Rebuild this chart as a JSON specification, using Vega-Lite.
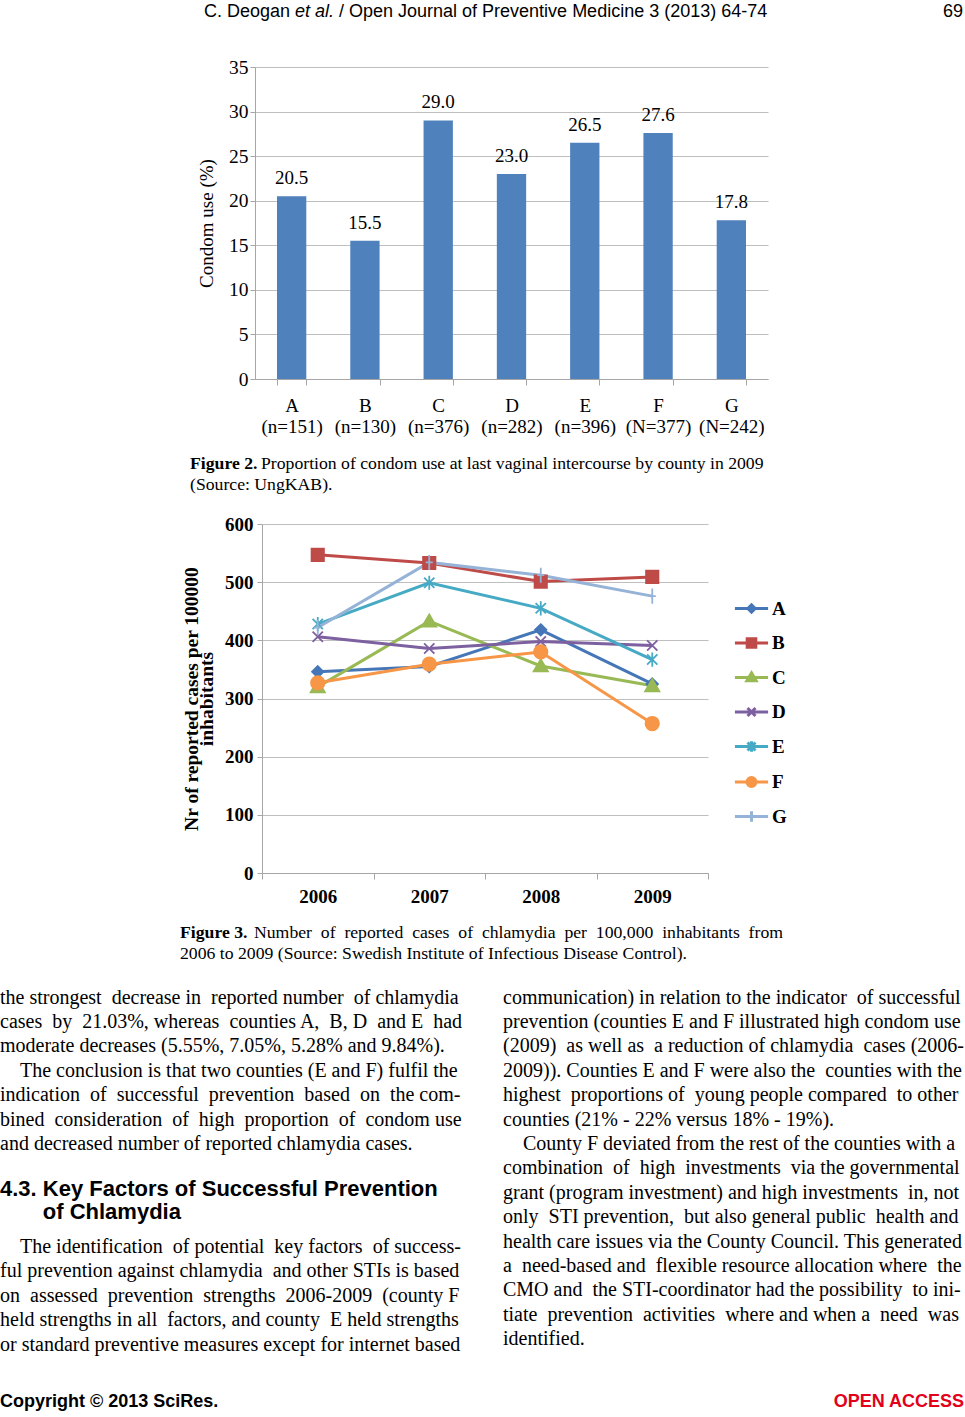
{
  "$schema": "https://vega.github.io/schema/vega-lite/v6.json",
  "width": 965,
  "height": 1417,
  "autosize": {"type": "none"},
  "padding": 0,
  "background": "#ffffff",
  "config": {
    "view": {"stroke": null},
    "text": {"color": "#000000"}
  },
  "resolve": {
    "scale": {"x": "independent", "y": "independent", "color": "independent", "shape": "independent", "fill": "independent", "stroke": "independent"},
    "axis": {"x": "independent", "y": "independent"},
    "legend": {"color": "independent", "shape": "independent", "fill": "independent", "stroke": "independent"}
  },
  "layer": [
    {
      "data": {"values": [{"col": 0, "line": 0, "t": "C. Deogan"}]},
      "mark": {"type": "text", "font": "Liberation Sans Narrow, Liberation Sans", "fontSize": 18, "align": "left", "baseline": "alphabetic"},
      "encoding": {
        "x": {"field": "col", "type": "quantitative", "scale": {"domain": [0, 1], "range": [204, 963], "nice": false}, "axis": null},
        "y": {"field": "line", "type": "quantitative", "scale": {"domain": [0, 1], "range": [17, 41], "nice": false}, "axis": null},
        "text": {"field": "t"}
      }
    },
    {
      "data": {"values": [{"col": 0, "line": 0, "t": "et al."}]},
      "mark": {"type": "text", "font": "Liberation Sans Narrow, Liberation Sans", "fontSize": 18, "fontStyle": "italic", "align": "left", "baseline": "alphabetic", "dx": 91},
      "encoding": {
        "x": {"field": "col", "type": "quantitative", "scale": {"domain": [0, 1], "range": [204, 963], "nice": false}, "axis": null},
        "y": {"field": "line", "type": "quantitative", "scale": {"domain": [0, 1], "range": [17, 41], "nice": false}, "axis": null},
        "text": {"field": "t"}
      }
    },
    {
      "data": {"values": [{"col": 0, "line": 0, "t": "/ Open Journal of Preventive Medicine 3 (2013) 64-74"}]},
      "mark": {"type": "text", "font": "Liberation Sans Narrow, Liberation Sans", "fontSize": 18, "align": "left", "baseline": "alphabetic", "dx": 135},
      "encoding": {
        "x": {"field": "col", "type": "quantitative", "scale": {"domain": [0, 1], "range": [204, 963], "nice": false}, "axis": null},
        "y": {"field": "line", "type": "quantitative", "scale": {"domain": [0, 1], "range": [17, 41], "nice": false}, "axis": null},
        "text": {"field": "t"}
      }
    },
    {
      "data": {"values": [{"col": 1, "line": 0, "t": "69"}]},
      "mark": {"type": "text", "font": "Liberation Sans Narrow, Liberation Sans", "fontSize": 18, "align": "right", "baseline": "alphabetic"},
      "encoding": {
        "x": {"field": "col", "type": "quantitative", "scale": {"domain": [0, 1], "range": [486, 963], "nice": false}, "axis": null},
        "y": {"field": "line", "type": "quantitative", "scale": {"domain": [0, 1], "range": [17, 41], "nice": false}, "axis": null},
        "text": {"field": "t"}
      }
    },
    {
      "data": {"values": [
        {"county": "A", "lab": "A (n=151)", "pct": 20.5},
        {"county": "B", "lab": "B (n=130)", "pct": 15.5},
        {"county": "C", "lab": "C (n=376)", "pct": 29.0},
        {"county": "D", "lab": "D (n=282)", "pct": 23.0},
        {"county": "E", "lab": "E (n=396)", "pct": 26.5},
        {"county": "F", "lab": "F (N=377)", "pct": 27.6},
        {"county": "G", "lab": "G (N=242)", "pct": 17.8}
      ]},
      "encoding": {
        "x": {"field": "lab", "type": "nominal", "sort": null,
          "scale": {"type": "band", "range": [255, 768], "paddingInner": 0.6, "paddingOuter": 0.3},
          "axis": {"orient": "bottom", "offset": -1038, "title": null, "labelAngle": 0,
            "labelExpr": "split(datum.label, ' ')",
            "labelFont": "Liberation Serif", "labelFontSize": 19, "labelColor": "#000000", "labelLineHeight": 21,
            "labelPadding": 11, "domainColor": "#A6A6A6", "tickColor": "#A6A6A6", "tickSize": 6, "tickBand": "extent", "grid": false}},
        "y": {"field": "pct", "type": "quantitative",
          "scale": {"domain": [0, 35], "range": [379, 67], "nice": false},
          "axis": {"orient": "left", "offset": -255, "values": [0, 5, 10, 15, 20, 25, 30, 35],
            "title": "Condom use (%)", "titleFont": "Liberation Serif", "titleFontSize": 19, "titleFontWeight": "normal", "titleColor": "#000000", "titlePadding": 12,
            "labelFont": "Liberation Serif", "labelFontSize": 19.5, "labelColor": "#000000", "labelPadding": 2,
            "grid": true, "gridColor": "#BFBFBF", "domainColor": "#A6A6A6", "ticks": true, "tickColor": "#A6A6A6", "tickSize": 5}}
      },
      "layer": [
        {"mark": {"type": "bar", "color": "#4F81BD"}},
        {"mark": {"type": "text", "font": "Liberation Serif", "fontSize": 19, "baseline": "alphabetic", "dy": -12},
         "encoding": {"text": {"field": "pct", "type": "quantitative", "format": ".1f"}}}
      ]
    },
    {
      "data": {"values": [{"col": 0, "line": 0, "t": "Figure 2."}]},
      "mark": {"type": "text", "font": "Liberation Serif", "fontSize": 17.7, "fontWeight": "bold", "align": "left", "baseline": "alphabetic"},
      "encoding": {
        "x": {"field": "col", "type": "quantitative", "scale": {"domain": [0, 1], "range": [190, 790], "nice": false}, "axis": null},
        "y": {"field": "line", "type": "quantitative", "scale": {"domain": [0, 1], "range": [469, 490], "nice": false}, "axis": null},
        "text": {"field": "t"}
      }
    },
    {
      "data": {"values": [{"col": 0, "line": 0, "t": "Proportion of condom use at last vaginal intercourse by county in 2009"}]},
      "mark": {"type": "text", "font": "Liberation Serif", "fontSize": 17.7, "align": "left", "baseline": "alphabetic", "dx": 71},
      "encoding": {
        "x": {"field": "col", "type": "quantitative", "scale": {"domain": [0, 1], "range": [190, 790], "nice": false}, "axis": null},
        "y": {"field": "line", "type": "quantitative", "scale": {"domain": [0, 1], "range": [469, 490], "nice": false}, "axis": null},
        "text": {"field": "t"}
      }
    },
    {
      "data": {"values": [{"col": 0, "line": 1, "t": "(Source: UngKAB)."}]},
      "mark": {"type": "text", "font": "Liberation Serif", "fontSize": 17.7, "align": "left", "baseline": "alphabetic"},
      "encoding": {
        "x": {"field": "col", "type": "quantitative", "scale": {"domain": [0, 1], "range": [190, 790], "nice": false}, "axis": null},
        "y": {"field": "line", "type": "quantitative", "scale": {"domain": [0, 1], "range": [469, 490], "nice": false}, "axis": null},
        "text": {"field": "t"}
      }
    },
    {
      "data": {"values": [
        {"s": "A", "year": "2006", "v": 346}, {"s": "A", "year": "2007", "v": 355}, {"s": "A", "year": "2008", "v": 418}, {"s": "A", "year": "2009", "v": 325},
        {"s": "B", "year": "2006", "v": 547}, {"s": "B", "year": "2007", "v": 533}, {"s": "B", "year": "2008", "v": 501}, {"s": "B", "year": "2009", "v": 509},
        {"s": "C", "year": "2006", "v": 320}, {"s": "C", "year": "2007", "v": 433}, {"s": "C", "year": "2008", "v": 356}, {"s": "C", "year": "2009", "v": 322},
        {"s": "D", "year": "2006", "v": 406}, {"s": "D", "year": "2007", "v": 386}, {"s": "D", "year": "2008", "v": 398}, {"s": "D", "year": "2009", "v": 391},
        {"s": "E", "year": "2006", "v": 428}, {"s": "E", "year": "2007", "v": 499}, {"s": "E", "year": "2008", "v": 455}, {"s": "E", "year": "2009", "v": 367},
        {"s": "F", "year": "2006", "v": 327}, {"s": "F", "year": "2007", "v": 359}, {"s": "F", "year": "2008", "v": 380}, {"s": "F", "year": "2009", "v": 257},
        {"s": "G", "year": "2006", "v": 422}, {"s": "G", "year": "2007", "v": 534}, {"s": "G", "year": "2008", "v": 512}, {"s": "G", "year": "2009", "v": 476}
      ]},
      "encoding": {
        "x": {"field": "year", "type": "nominal", "sort": null,
          "scale": {"type": "band", "range": [262, 708], "paddingInner": 0, "paddingOuter": 0},
          "axis": {"orient": "bottom", "offset": -544, "title": null, "labelAngle": 0,
            "labelFont": "Liberation Serif", "labelFontSize": 19, "labelFontWeight": "bold", "labelColor": "#000000",
            "labelPadding": 8, "domainColor": "#A6A6A6", "tickColor": "#A6A6A6", "tickSize": 6, "tickBand": "extent", "grid": false}},
        "y": {"field": "v", "type": "quantitative",
          "scale": {"domain": [0, 600], "range": [873, 524], "nice": false},
          "axis": {"orient": "left", "offset": -262, "values": [0, 100, 200, 300, 400, 500, 600],
            "title": ["Nr of reported cases per 100000", "inhabitants"], "titleFont": "Liberation Serif", "titleFontSize": 19.5, "titleFontWeight": "bold", "titleColor": "#000000", "titlePadding": 8, "titleLineHeight": 15,
            "labelFont": "Liberation Serif", "labelFontSize": 19, "labelFontWeight": "bold", "labelColor": "#000000", "labelPadding": 4,
            "grid": true, "gridColor": "#BFBFBF", "domainColor": "#A6A6A6", "ticks": true, "tickColor": "#A6A6A6", "tickSize": 5}}
      },
      "resolve": {"scale": {"shape": "independent", "fill": "independent", "stroke": "independent", "color": "independent", "opacity": "independent"}},
      "layer": [
        {
          "mark": {"type": "line", "strokeWidth": 3},
          "encoding": {
            "color": {"field": "s", "type": "nominal", "legend": null,
              "scale": {"domain": ["A", "B", "C", "D", "E", "F", "G"], "range": ["#4576B8", "#BE4B48", "#98B954", "#7D60A0", "#46AAC5", "#F79646", "#95B3D7"]}}
          }
        },
        {
          "mark": {"type": "point", "size": 250, "strokeWidth": 1.8, "opacity": 1},
          "encoding": {
            "fill": {"field": "s", "type": "nominal", "legend": null,
              "scale": {"domain": ["A", "B", "C", "D", "E", "F", "G"], "range": ["#4576B8", "#BE4B48", "#98B954", "#7D60A0", "#46AAC5", "#F79646", "#95B3D7"]}},
            "stroke": {"field": "s", "type": "nominal", "legend": null,
              "scale": {"domain": ["A", "B", "C", "D", "E", "F", "G"], "range": ["#4576B8", "#BE4B48", "#98B954", "#7D60A0", "#46AAC5", "#F79646", "#95B3D7"]}},
            "shape": {"field": "s", "type": "nominal", "legend": null,
              "scale": {"domain": ["A", "B", "C", "D", "E", "F", "G"], "range": [
                "M0,-0.72L0.72,0L0,0.72L-0.72,0Z",
                "M-0.78,-0.78H0.78V0.78H-0.78Z",
                "M0,-0.85L0.9,0.7H-0.9Z",
                "M-0.65,-0.65L0.65,0.65M-0.65,0.65L0.65,-0.65",
                "M-0.65,-0.65L0.65,0.65M-0.65,0.65L0.65,-0.65M0,-0.9V0.9",
                "M-0.85,0A0.85,0.85 0 1,0 0.85,0A0.85,0.85 0 1,0 -0.85,0Z",
                "M0,-0.95V0.95M-0.45,0H0.45"
              ]}}
          }
        },
        {
          "mark": {"type": "point", "size": 1, "opacity": 0},
          "encoding": {
            "fill": {"field": "s", "type": "nominal",
              "scale": {"domain": ["A", "B", "C", "D", "E", "F", "G"], "range": ["#4576B8", "#BE4B48", "#98B954", "#7D60A0", "#46AAC5", "#F79646", "#95B3D7"]},
              "legend": {"orient": "none", "legendX": 733, "legendY": 590, "title": null, "symbolSize": 1100, "symbolStrokeWidth": 3, "symbolOpacity": 1,
                "labelFont": "Liberation Serif", "labelFontSize": 19, "labelFontWeight": "bold", "labelColor": "#000000", "labelOffset": 2, "rowPadding": 5.5}},
            "stroke": {"field": "s", "type": "nominal",
              "scale": {"domain": ["A", "B", "C", "D", "E", "F", "G"], "range": ["#4576B8", "#BE4B48", "#98B954", "#7D60A0", "#46AAC5", "#F79646", "#95B3D7"]},
              "legend": {"orient": "none", "legendX": 733, "legendY": 590, "title": null, "symbolSize": 1100, "symbolStrokeWidth": 3, "symbolOpacity": 1,
                "labelFont": "Liberation Serif", "labelFontSize": 19, "labelFontWeight": "bold", "labelColor": "#000000", "labelOffset": 2, "rowPadding": 5.5}},
            "shape": {"field": "s", "type": "nominal",
              "scale": {"domain": ["A", "B", "C", "D", "E", "F", "G"], "range": [
                "M-1,0H1M0,-0.22L0.22,0L0,0.22L-0.22,0Z",
                "M-1,0H1M-0.26,-0.26H0.26V0.26H-0.26Z",
                "M-1,0H1M0,-0.28L0.28,0.2H-0.28Z",
                "M-1,0H1M-0.24,-0.24L0.24,0.24M-0.24,0.24L0.24,-0.24",
                "M-1,0H1M-0.24,-0.24L0.24,0.24M-0.24,0.24L0.24,-0.24M0,-0.32V0.32",
                "M-1,0H1M-0.27,0A0.27,0.27 0 1,0 0.27,0A0.27,0.27 0 1,0 -0.27,0Z",
                "M-1,0H1M0,-0.32V0.32"
              ]},
              "legend": {"orient": "none", "legendX": 733, "legendY": 590, "title": null, "symbolSize": 1100, "symbolStrokeWidth": 3, "symbolOpacity": 1,
                "labelFont": "Liberation Serif", "labelFontSize": 19, "labelFontWeight": "bold", "labelColor": "#000000", "labelOffset": 2, "rowPadding": 5.5}}
          }
        }
      ]
    },
    {
      "data": {"values": [{"col": 0, "line": 0, "t": "Figure 3."}]},
      "mark": {"type": "text", "font": "Liberation Serif", "fontSize": 17.7, "fontWeight": "bold", "align": "left", "baseline": "alphabetic"},
      "encoding": {
        "x": {"field": "col", "type": "quantitative", "scale": {"domain": [0, 1], "range": [180, 785], "nice": false}, "axis": null},
        "y": {"field": "line", "type": "quantitative", "scale": {"domain": [0, 1], "range": [938, 959], "nice": false}, "axis": null},
        "text": {"field": "t"}
      }
    },
    {
      "data": {"values": [{"col": 0, "line": 0, "t": "Number\u00a0 of\u00a0 reported\u00a0 cases\u00a0 of\u00a0 chlamydia\u00a0 per\u00a0 100,000\u00a0 inhabitants\u00a0 from"}]},
      "mark": {"type": "text", "font": "Liberation Serif", "fontSize": 17.7, "align": "left", "baseline": "alphabetic", "dx": 74},
      "encoding": {
        "x": {"field": "col", "type": "quantitative", "scale": {"domain": [0, 1], "range": [180, 785], "nice": false}, "axis": null},
        "y": {"field": "line", "type": "quantitative", "scale": {"domain": [0, 1], "range": [938, 959], "nice": false}, "axis": null},
        "text": {"field": "t"}
      }
    },
    {
      "data": {"values": [{"col": 0, "line": 1, "t": "2006 to 2009 (Source: Swedish Institute of Infectious Disease Control)."}]},
      "mark": {"type": "text", "font": "Liberation Serif", "fontSize": 17.7, "align": "left", "baseline": "alphabetic"},
      "encoding": {
        "x": {"field": "col", "type": "quantitative", "scale": {"domain": [0, 1], "range": [180, 785], "nice": false}, "axis": null},
        "y": {"field": "line", "type": "quantitative", "scale": {"domain": [0, 1], "range": [938, 959], "nice": false}, "axis": null},
        "text": {"field": "t"}
      }
    },
    {
      "data": {"values": [
        {"col": 0, "line": 0, "t": "the strongest\u00a0 decrease in\u00a0 reported number\u00a0 of chlamydia"},
        {"col": 0, "line": 1, "t": "cases\u00a0 by\u00a0 21.03%, whereas\u00a0 counties A,\u00a0 B, D\u00a0 and E\u00a0 had"},
        {"col": 0, "line": 2, "t": "moderate decreases (5.55%, 7.05%, 5.28% and 9.84%)."},
        {"col": 0, "line": 3, "t": "\u2060\u00a0\u00a0\u00a0\u00a0The conclusion is that two counties (E and F) fulfil the"},
        {"col": 0, "line": 4, "t": "indication\u00a0 of\u00a0 successful\u00a0 prevention\u00a0 based\u00a0 on\u00a0 the com-"},
        {"col": 0, "line": 5, "t": "bined\u00a0 consideration\u00a0 of\u00a0 high\u00a0 proportion\u00a0 of\u00a0 condom use"},
        {"col": 0, "line": 6, "t": "and decreased number of reported chlamydia cases."},
        {"col": 1, "line": 0, "t": "communication) in relation to the indicator\u00a0 of successful"},
        {"col": 1, "line": 1, "t": "prevention (counties E and F illustrated high condom use"},
        {"col": 1, "line": 2, "t": "(2009)\u00a0 as well as\u00a0 a reduction of chlamydia\u00a0 cases (2006-"},
        {"col": 1, "line": 3, "t": "2009)). Counties E and F were also the\u00a0 counties with the"},
        {"col": 1, "line": 4, "t": "highest\u00a0 proportions of\u00a0 young people compared\u00a0 to other"},
        {"col": 1, "line": 5, "t": "counties (21% - 22% versus 18% - 19%)."},
        {"col": 1, "line": 6, "t": "\u2060\u00a0\u00a0\u00a0\u00a0County F deviated from the rest of the counties with a"},
        {"col": 1, "line": 7, "t": "combination\u00a0 of\u00a0 high\u00a0 investments\u00a0 via the governmental"},
        {"col": 1, "line": 8, "t": "grant (program investment) and high investments\u00a0 in, not"},
        {"col": 1, "line": 9, "t": "only\u00a0 STI prevention,\u00a0 but also general public\u00a0 health and"},
        {"col": 1, "line": 10, "t": "health care issues via the County Council. This generated"},
        {"col": 1, "line": 11, "t": "a\u00a0 need-based and\u00a0 flexible resource allocation where\u00a0 the"},
        {"col": 1, "line": 12, "t": "CMO and\u00a0 the STI-coordinator had the possibility\u00a0 to ini-"},
        {"col": 1, "line": 13, "t": "tiate\u00a0 prevention\u00a0 activities\u00a0 where and when a\u00a0 need\u00a0 was"},
        {"col": 1, "line": 14, "t": "identified."}
      ]},
      "mark": {"type": "text", "font": "Liberation Serif", "fontSize": 20, "align": "left", "baseline": "alphabetic"},
      "encoding": {
        "x": {"field": "col", "type": "quantitative", "scale": {"domain": [0, 1], "range": [0, 503], "nice": false}, "axis": null},
        "y": {"field": "line", "type": "quantitative", "scale": {"domain": [0, 14], "range": [1003.5, 1345.1], "nice": false}, "axis": null},
        "text": {"field": "t"}
      }
    },
    {
      "data": {"values": [
        {"col": 0, "line": 0, "t": "4.3. Key Factors of Successful Prevention"},
        {"col": 0, "line": 1, "t": "\u2060\u00a0\u00a0\u00a0\u00a0\u00a0\u00a0\u00a0of Chlamydia"}
      ]},
      "mark": {"type": "text", "font": "Liberation Sans", "fontSize": 22, "fontWeight": "bold", "align": "left", "baseline": "alphabetic"},
      "encoding": {
        "x": {"field": "col", "type": "quantitative", "scale": {"domain": [0, 1], "range": [0, 503], "nice": false}, "axis": null},
        "y": {"field": "line", "type": "quantitative", "scale": {"domain": [0, 1], "range": [1196, 1219], "nice": false}, "axis": null},
        "text": {"field": "t"}
      }
    },
    {
      "data": {"values": [
        {"col": 0, "line": 0, "t": "\u2060\u00a0\u00a0\u00a0\u00a0The identification\u00a0 of potential\u00a0 key factors\u00a0 of success-"},
        {"col": 0, "line": 1, "t": "ful prevention against chlamydia\u00a0 and other STIs is based"},
        {"col": 0, "line": 2, "t": "on\u00a0 assessed\u00a0 prevention\u00a0 strengths\u00a0 2006-2009\u00a0 (county F"},
        {"col": 0, "line": 3, "t": "held strengths in all\u00a0 factors, and county\u00a0 E held strengths"},
        {"col": 0, "line": 4, "t": "or standard preventive measures except for internet based"}
      ]},
      "mark": {"type": "text", "font": "Liberation Serif", "fontSize": 20, "align": "left", "baseline": "alphabetic"},
      "encoding": {
        "x": {"field": "col", "type": "quantitative", "scale": {"domain": [0, 1], "range": [0, 503], "nice": false}, "axis": null},
        "y": {"field": "line", "type": "quantitative", "scale": {"domain": [0, 4], "range": [1253, 1350.6], "nice": false}, "axis": null},
        "text": {"field": "t"}
      }
    },
    {
      "data": {"values": [{"col": 0, "line": 0, "t": "Copyright © 2013 SciRes."}]},
      "mark": {"type": "text", "font": "Liberation Sans Narrow, Liberation Sans", "fontSize": 18, "fontWeight": "bold", "align": "left", "baseline": "alphabetic"},
      "encoding": {
        "x": {"field": "col", "type": "quantitative", "scale": {"domain": [0, 1], "range": [0, 965], "nice": false}, "axis": null},
        "y": {"field": "line", "type": "quantitative", "scale": {"domain": [0, 1], "range": [1407, 1430], "nice": false}, "axis": null},
        "text": {"field": "t"}
      }
    },
    {
      "data": {"values": [{"col": 1, "line": 0, "t": "OPEN ACCESS"}]},
      "mark": {"type": "text", "font": "Liberation Sans Narrow, Liberation Sans", "fontSize": 18, "fontWeight": "bold", "align": "right", "baseline": "alphabetic", "color": "#E2001A"},
      "encoding": {
        "x": {"field": "col", "type": "quantitative", "scale": {"domain": [0, 1], "range": [0, 964], "nice": false}, "axis": null},
        "y": {"field": "line", "type": "quantitative", "scale": {"domain": [0, 1], "range": [1407, 1430], "nice": false}, "axis": null},
        "text": {"field": "t"}
      }
    }
  ]
}
